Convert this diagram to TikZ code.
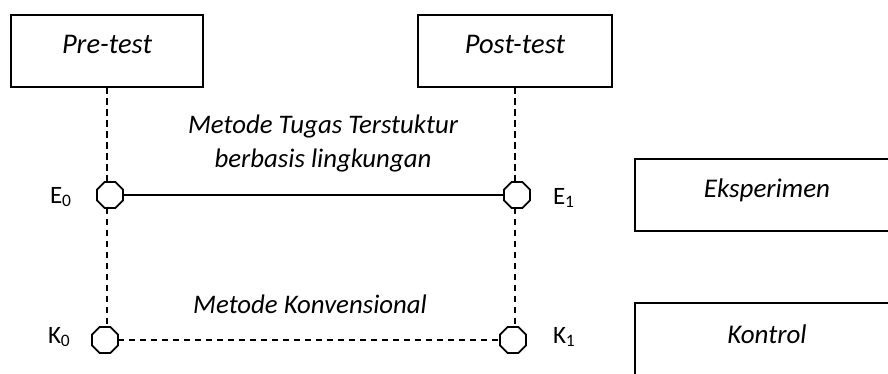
\documentclass[tikz,border=0pt]{standalone}
\usepackage{fontspec}
\setmainfont{Carlito}
\usetikzlibrary{shapes.geometric}
\begin{document}
\begin{tikzpicture}[x=1pt,y=-1pt,
  every node/.style={inner sep=0pt, outer sep=0pt},
  headbox/.style={draw, line width=1.8pt, rectangle, text height=38pt, text depth=34pt,
                  font=\fontsize{28.5}{33}\selectfont\itshape},
  groupbox/.style={draw, line width=1.8pt, rectangle},
  grouptext/.style={anchor=base, font=\fontsize{27}{32}\selectfont\itshape},
  treatment/.style={anchor=base, font=\fontsize{26.8}{32}\selectfont\itshape},
  obs/.style={draw, line width=1.8pt, fill=white, regular polygon, regular polygon sides=8,
              minimum size=28pt},
  obslabel/.style={anchor=base west, font=\fontsize{25}{30}\selectfont},
  solidlink/.style={line width=1.8pt},
  dashlink/.style={line width=1.6pt, dash pattern=on 6.5pt off 4.5pt},
]
\useasboundingbox (0,0) rectangle (888,373);
\clip (0,0) rectangle (888,373);

% test boxes
\node[headbox, minimum width=192pt] (pre) at (107,51) {Pre-test};
\node[headbox, minimum width=194pt] (post) at (515,51) {Post-test};

% observation points
\node[obs] (e0) at (110,195) {};
\node[obs] (e1) at (517,195) {};
\node[obs] (k0) at (105,340) {};
\node[obs] (k1) at (513,340) {};

% dashed time lines from the test boxes
\draw[dashlink] (pre.south) -- (pre.south |- e0.north);
\draw[dashlink] (pre.south |- e0.south) -- (pre.south |- k0.north);
\draw[dashlink] (post.south) -- (post.south |- e1.north);
\draw[dashlink] (post.south |- e1.south) -- (post.south |- k1.north);

% treatments
\draw[solidlink] (e0.east) -- (e1.west);
\draw[dashlink] (k0.east) -- (k1.west);

\node[treatment] (t1) at (323,133) {Metode Tugas Terstuktur};
\node[treatment] (t2) at (323,167) {berbasis lingkungan};
\node[treatment] (t3) at (310,313) {Metode Konvensional};

% labels of the observation points
\node[obslabel] (le0) at (50,203) {E\textsubscript{0}};
\node[obslabel] (le1) at (553,204) {E\textsubscript{1}};
\node[obslabel] (lk0) at (48,343) {K\textsubscript{0}};
\node[obslabel] (lk1) at (553,343) {K\textsubscript{1}};

% group boxes, running past the right edge
\node[groupbox, minimum width=280pt, minimum height=72pt] (expbox) at (775,195) {};
\node[groupbox, minimum width=280pt, minimum height=90pt] (ctrlbox) at (775,348) {};
\node[grouptext] (exptext) at (767,197) {Eksperimen};
\node[grouptext] (ctrltext) at (767,343) {Kontrol};
\end{tikzpicture}
\end{document}
